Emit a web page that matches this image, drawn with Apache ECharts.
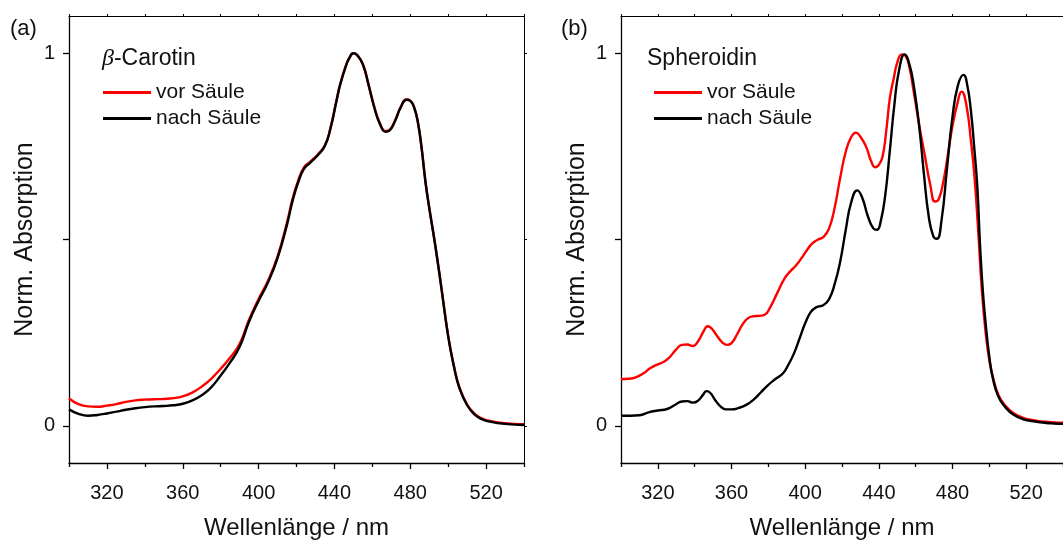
<!DOCTYPE html>
<html>
<head>
<meta charset="utf-8">
<script src="https://cdn.jsdelivr.net/npm/echarts@6/dist/echarts.min.js"></script>
<style>
html, body { margin: 0; padding: 0; background: #fff; }
#chart { width: 1063px; height: 545px; }
</style>
</head>
<body>
<div id="chart"></div>
<script>
// Normalized UV/Vis absorption spectra before (vor) and after (nach) the column.
// Wavelengths in nm, absorbance normalized to the main maximum.

// (a) beta-carotene
const carWlVor = [300,305,310,315,320,325,330,335,340,345,350,355,360,365,370,375,380,385,390,395,400,405,410,415,418,421,424,427,431,435,438,441,443,446,448,450,452,455,458,461,464,467,469,472,475,478,480,482,484,486,488,490,493,496,500,503,506,510,514,518,522,526,530,535,540];
const carAbsVor = [0.073,0.058,0.052,0.051,0.054,0.058,0.064,0.068,0.070,0.071,0.072,0.074,0.079,0.089,0.105,0.126,0.153,0.183,0.220,0.285,0.340,0.390,0.455,0.546,0.611,0.660,0.694,0.708,0.727,0.753,0.801,0.871,0.916,0.966,0.989,1.000,0.995,0.971,0.916,0.857,0.812,0.791,0.794,0.820,0.856,0.876,0.873,0.856,0.816,0.746,0.657,0.587,0.492,0.387,0.242,0.162,0.102,0.057,0.032,0.019,0.013,0.009,0.007,0.005,0.004];

const carWlNach = [300,305,310,315,320,325,330,335,340,345,350,355,360,365,370,375,380,385,390,395,400,405,410,415,418,421,424,427,431,435,438,441,443,446,448,450,452,455,458,461,464,467,469,472,475,478,480,482,484,486,488,490,493,496,500,503,506,510,514,518,522,526,530,535,540];
const carAbsNach = [0.044,0.032,0.027,0.029,0.033,0.038,0.043,0.047,0.050,0.052,0.053,0.055,0.059,0.068,0.082,0.103,0.135,0.170,0.212,0.280,0.335,0.385,0.450,0.540,0.605,0.655,0.690,0.705,0.725,0.752,0.800,0.870,0.915,0.965,0.988,1.000,0.995,0.970,0.915,0.855,0.810,0.789,0.792,0.818,0.855,0.875,0.872,0.855,0.815,0.745,0.655,0.585,0.490,0.385,0.240,0.160,0.100,0.055,0.030,0.017,0.011,0.007,0.005,0.003,0.002];

// (b) spheroidene
const sphWlVor = [300,304,308,312,316,320,323,326,330,333,336,339,342,345,347,349,352,355,357.5,360,363,366,369,372,375,378,381,385,389,392,395,398,401,404,407,410,413,416,419,422,425,427.5,430,433,436,438,440,442,444,446,448,450,452.5,454.5,456.5,459,462,465,468,470.5,472.5,475,477.5,480,482.5,485,487.5,490,492,494,496,498,500,502,505,509,513,518,524,530,535,540];
const sphAbsVor = [0.125,0.126,0.130,0.140,0.155,0.165,0.171,0.182,0.205,0.217,0.218,0.214,0.228,0.255,0.267,0.262,0.242,0.224,0.217,0.222,0.245,0.272,0.289,0.294,0.295,0.298,0.318,0.358,0.397,0.415,0.430,0.450,0.472,0.490,0.500,0.507,0.530,0.585,0.665,0.735,0.775,0.787,0.776,0.750,0.708,0.694,0.700,0.722,0.790,0.880,0.930,0.975,0.997,0.993,0.965,0.895,0.805,0.725,0.645,0.602,0.608,0.655,0.728,0.805,0.862,0.897,0.862,0.765,0.665,0.520,0.360,0.250,0.175,0.130,0.082,0.052,0.034,0.022,0.015,0.011,0.009,0.008];

const sphWlNach = [300,305,310,315,320,325,329,333,336,339,342,344.5,346.5,348.5,351,354,357,360,364,368,372,376,380,384,388,391,394,397,400,403,406,410,413,416,419,422,425,428.3,431,434,437,439,441,443.5,446,448.5,451,454,456.5,459,462,464.5,467,469.5,471.5,474,477,480,483,486,488,490,492,493.5,495,496.5,498,500,502,505,509,513,518,524,530,535,540];
const sphAbsNach = [0.027,0.027,0.028,0.036,0.041,0.045,0.055,0.065,0.066,0.062,0.068,0.083,0.093,0.088,0.070,0.052,0.044,0.044,0.048,0.056,0.070,0.090,0.110,0.126,0.141,0.165,0.195,0.235,0.275,0.305,0.318,0.324,0.340,0.380,0.440,0.525,0.600,0.632,0.612,0.563,0.530,0.526,0.548,0.620,0.740,0.865,0.955,0.997,0.972,0.912,0.800,0.675,0.565,0.510,0.502,0.550,0.690,0.830,0.915,0.942,0.915,0.845,0.735,0.640,0.480,0.360,0.275,0.185,0.125,0.077,0.048,0.030,0.018,0.012,0.008,0.006,0.005];

// Axis ticks
const xMajorTicks = [320, 360, 400, 440, 480, 520];
const xMinorTicks = [300, 340, 380, 420, 460, 500, 540];
const xTopTicks = [300, 320, 340, 360, 380, 400, 420, 440, 460, 480, 500, 520, 540];
const yTicks = [0, 0.5, 1];
const yLabels = [0, 1];

const seriesNames = ['vor Säule', 'nach Säule'];
const panelLabels = ['(a)', '(b)'];

const FONT = 'Liberation Sans, Arial, sans-serif';
const zip = (xs, ys) => xs.map((x, i) => [x, ys[i]]);

const grids = [
  { left: 69, top: 16, width: 455, height: 452 },
  { left: 621, top: 16, width: 451, height: 452 }
];

function xAxesFor(g) {
  return [
    {
      gridIndex: g, type: 'value', min: 300, max: 540, position: 'bottom',
      axisLine: { onZero: false, lineStyle: { color: '#000', width: 1.3 } },
      axisTick: { customValues: xMajorTicks, length: 6, lineStyle: { color: '#000', width: 1.3 } },
      axisLabel: { customValues: xMajorTicks, margin: 20, fontSize: 20, color: '#111', fontFamily: FONT },
      splitLine: { show: false },
      name: 'Wellenlänge / nm', nameLocation: 'middle', nameGap: 53,
      nameTextStyle: { fontSize: 24, color: '#111', fontFamily: FONT }
    },
    {
      gridIndex: g, type: 'value', min: 300, max: 540, position: 'bottom',
      axisLine: { onZero: false, show: false },
      axisTick: { customValues: xMinorTicks, length: 4, lineStyle: { color: '#000', width: 1.3 } },
      axisLabel: { show: false },
      splitLine: { show: false }
    },
    {
      gridIndex: g, type: 'value', min: 300, max: 540, position: 'top',
      axisLine: { onZero: false, lineStyle: { color: '#000', width: 1 } },
      axisTick: { customValues: xTopTicks, length: 2, lineStyle: { color: '#000', width: 1 } },
      axisLabel: { show: false },
      splitLine: { show: false }
    }
  ];
}

function yAxesFor(g) {
  return [
    {
      gridIndex: g, type: 'value', min: -0.1, max: 1.1, position: 'left',
      axisLine: { show: true, onZero: false, lineStyle: { color: '#000', width: 1.3 } },
      axisTick: { show: true, customValues: yTicks, length: 6, lineStyle: { color: '#000', width: 1.3 } },
      axisLabel: { customValues: yLabels, margin: 14, fontSize: 20, color: '#111', fontFamily: FONT },
      splitLine: { show: false },
      name: 'Norm. Absorption', nameLocation: 'middle', nameGap: 31,
      nameTextStyle: { fontSize: 25, color: '#111', fontFamily: FONT }
    },
    {
      gridIndex: g, type: 'value', min: -0.1, max: 1.1, position: 'right',
      axisLine: { show: true, onZero: false, lineStyle: { color: '#000', width: 1 } },
      axisTick: { show: true, customValues: yTicks, length: 3, lineStyle: { color: '#000', width: 1 } },
      axisLabel: { show: false },
      splitLine: { show: false }
    }
  ];
}

function lineSeries(name, color, data, g) {
  return {
    name, type: 'line', data,
    xAxisIndex: g * 3, yAxisIndex: g * 2,
    showSymbol: false, smooth: 0.5,
    lineStyle: { color, width: 2.4, join: 'round' }, itemStyle: { color },
    z: color === '#000000' ? 3 : 2
  };
}

const legendCommon = {
  orient: 'vertical', icon: 'rect', itemWidth: 48, itemHeight: 3, itemGap: 5,
  padding: 0, selectedMode: false,
  textStyle: { fontSize: 21, color: '#111', fontFamily: FONT },
  data: seriesNames
};

const chart = echarts.init(document.getElementById('chart'), null, { renderer: 'canvas' });
chart.setOption({
  animation: false,
  backgroundColor: '#fff',
  title: [
    { text: panelLabels[0], left: 10, top: 18, padding: 0,
      textStyle: { fontSize: 22, fontWeight: 'normal', color: '#111', fontFamily: FONT } },
    { text: panelLabels[1], left: 561, top: 18, padding: 0,
      textStyle: { fontSize: 22, fontWeight: 'normal', color: '#111', fontFamily: FONT } },
    { text: '{b|β}-Carotin', left: 102, top: 47, padding: 0,
      textStyle: { fontSize: 23, fontWeight: 'normal', color: '#111', fontFamily: FONT,
        rich: { b: { fontSize: 24, fontStyle: 'italic', fontFamily: 'Liberation Serif, serif', color: '#111' } } } },
    { text: 'Spheroidin', left: 647, top: 47, padding: 0,
      textStyle: { fontSize: 23, fontWeight: 'normal', color: '#111', fontFamily: FONT } }
  ],
  legend: [
    Object.assign({ left: 103, top: 82 }, legendCommon),
    Object.assign({ left: 654, top: 82 }, legendCommon)
  ],
  grid: grids,
  xAxis: [...xAxesFor(0), ...xAxesFor(1)],
  yAxis: [...yAxesFor(0), ...yAxesFor(1)],
  series: [
    lineSeries(seriesNames[0], '#ff0000', zip(carWlVor, carAbsVor), 0),
    lineSeries(seriesNames[1], '#000000', zip(carWlNach, carAbsNach), 0),
    lineSeries(seriesNames[0], '#ff0000', zip(sphWlVor, sphAbsVor), 1),
    lineSeries(seriesNames[1], '#000000', zip(sphWlNach, sphAbsNach), 1)
  ]
});
</script>
</body>
</html>
